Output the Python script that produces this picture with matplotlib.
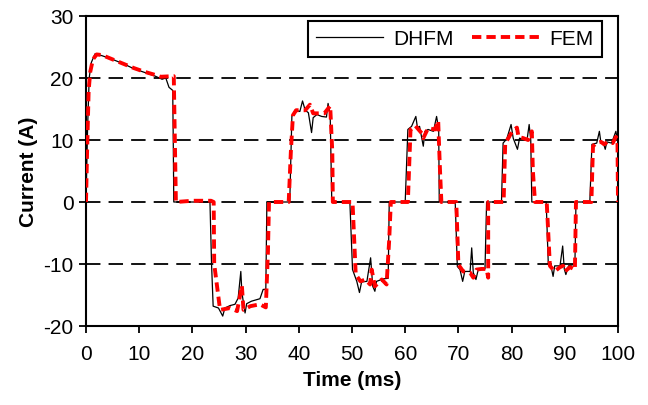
import matplotlib
matplotlib.use('Agg')
import matplotlib.pyplot as plt

# 字體設定
plt.rcParams['font.family'] = ['Liberation Sans', 'DejaVu Sans']
plt.rcParams['axes.unicode_minus'] = False

# DHFM 電流波形 (時間 ms, 電流 A)
dhfm_t = [0, 0.3, 0.6, 1.0, 1.7, 3, 5, 7, 9, 11, 13, 14.3, 15.0, 15.6, 16.3, 16.4, 16.5,
          23.3, 23.6, 23.9, 24.9, 25.7, 26.1, 27.1, 28.0, 28.6, 29.1, 29.3, 29.9, 30.2, 31.1, 32.7, 33.3, 33.8, 34.0,
          38.3, 38.7, 39.3, 40.2, 40.7, 41.2, 41.8, 42.4, 42.7, 43.4, 44.3, 45.2, 45.5, 45.9, 46.2,
          49.6, 50.1, 50.9, 51.4, 51.8, 52.8, 53.5, 53.9, 54.3, 54.6, 55.9, 56.8, 57.0,
          60.0, 60.5, 61.2, 62.0, 62.3, 62.7, 63.4, 63.7, 64.3, 65.3, 65.9, 66.3, 66.4,
          69.4, 69.8, 70.3, 70.8, 71.2, 72.2, 72.5, 72.8, 73.3, 73.7, 75.0, 75.3,
          78.1, 78.4, 79.1, 79.9, 80.3, 81.1, 81.5, 82.5, 82.9, 83.3, 83.6, 83.8,
          86.5, 86.9, 87.4, 87.8, 88.1, 89.1, 89.6, 89.9, 90.2, 90.7, 91.6, 91.9, 92.1,
          94.7, 95.1, 96.0, 96.5, 96.8, 97.2, 97.6, 97.9, 98.8, 99.6, 100.0]
dhfm_i = [0, 12, 20, 22.5, 23.9, 23.6, 23.0, 22.3, 21.5, 20.9, 20.3, 19.8, 20.0, 18.5, 18.0, 10, 0,
          0, -10, -16.8, -17.1, -18.4, -17.1, -16.7, -16.5, -15.5, -11.2, -14.6, -17.9, -16.4, -16.0, -15.6, -14.1, -14.1, 0,
          0, 13.8, 14.8, 14.6, 16.3, 14.8, 14.4, 11.2, 13.6, 14.1, 13.8, 13.7, 15.9, 14.1, 0,
          0, -10.9, -12.8, -14.6, -12.9, -12.8, -9.0, -13.6, -14.4, -12.8, -12.4, -12.3, 0,
          0, 11.7, 12.2, 13.8, 12.0, 12.2, 9.0, 11.4, 11.7, 11.4, 13.8, 11.7, 0,
          0, -10.4, -10.9, -12.8, -11.2, -11.2, -7.4, -11.4, -12.5, -11.0, -10.8, 0,
          0, 9.5, 10.2, 12.5, 10.3, 8.5, 10.3, 10.0, 10.0, 12.5, 10.0, 0,
          0, -10.1, -10.3, -12.0, -10.3, -10.3, -7.1, -10.8, -11.7, -10.3, -10.1, -10.1, 0,
          0, 9.3, 9.5, 11.4, 9.5, 9.7, 8.5, 9.7, 9.5, 11.4, 9.5]

# FEM 電流波形
fem_t = [0, 0.2, 0.5, 0.8, 1.3, 2.0, 3, 5, 7, 9, 11, 13, 14, 16.5, 16.7, 16.9,
         20, 23.5, 24.0, 24.1, 25.2, 27.1, 28.4, 29.3, 29.6, 30.9, 32.7, 33.8, 34.2, 34.4,
         38.1, 38.5, 38.9, 39.5, 41.2, 42.1, 42.7, 43.9, 44.8, 45.9, 46.3, 46.4,
         50.1, 50.7, 51.6, 52.5, 53.4, 53.7, 54.3, 55.6, 56.5, 57.0, 57.3,
         60.5, 61.0, 61.9, 63.1, 63.4, 64.3, 65.6, 66.2, 66.5, 66.8,
         69.6, 70.0, 70.9, 72.2, 72.8, 73.4, 74.3, 75.3, 75.6, 75.6,
         78.5, 78.8, 79.4, 80.1, 81.0, 81.3, 82.2, 83.1, 83.8, 84.0, 84.4,
         86.6, 87.2, 88.1, 89.1, 89.7, 90.0, 91.0, 91.9, 92.1,
         95.0, 95.3, 95.9, 96.8, 97.4, 98.0, 99.0, 99.6, 99.9, 100.0]
fem_i = [0, 8, 18, 21, 23, 23.8, 23.7, 23.0, 22.3, 21.6, 21.0, 20.5, 20.2, 20.3, 10, 0,
         0.2, 0.2, 0, -10, -17.4, -17.1, -17.6, -13.5, -17.4, -16.8, -16.5, -17.0, -8, 0,
         0, 8, 14.0, 14.8, 14.8, 15.7, 14.3, 14.3, 14.3, 15.5, 8, 0,
         0, -11.7, -12.8, -12.5, -13.3, -10.9, -13.6, -12.5, -13.3, -6, 0,
         0, 11.7, 12.3, 11.1, 10.3, 11.9, 11.7, 13.1, 6, 0,
         0, -10.1, -11.2, -11.4, -12.2, -10.9, -10.8, -10.8, -12.2, 0,
         0, 9.5, 10.3, 11.4, 12.0, 10.5, 10.3, 10.0, 11.4, 5, 0,
         0, -10.3, -11.2, -10.5, -10.3, -11.2, -10.5, -10.9, 0,
         0, 9.0, 9.5, 9.7, 9.3, 9.7, 9.5, 10.5, 10.0, 0]

x_ticks = [0, 10, 20, 30, 40, 50, 60, 70, 80, 90, 100]
y_ticks = [-20, -10, 0, 10, 20, 30]

fig = plt.figure(figsize=(6.48, 4.06), dpi=100)
ax = fig.add_axes([86 / 648, 1 - 327 / 406, 532 / 648, 310 / 406])

# 水平虛線格線
for yv in [-10, 0, 10, 20]:
    ax.axhline(yv, color='black', lw=1.3, dashes=(8, 4.5), zorder=1)

ax.plot(dhfm_t, dhfm_i, color='black', lw=0.9, label='DHFM', zorder=3)
ax.plot(fem_t, fem_i, color='red', lw=2.8, dashes=(2.4, 1.3), label='FEM', zorder=4)

ax.set_xlim(0, 100)
ax.set_ylim(-20, 30)
ax.set_xticks(x_ticks)
ax.set_yticks(y_ticks)
ax.tick_params(direction='out', length=5, width=1.3, labelsize=15)
ax.tick_params(axis='x', pad=8)
ax.tick_params(axis='y', pad=4)
for s in ax.spines.values():
    s.set_linewidth(1.5)

ax.set_xlabel('Time (ms)', fontsize=15, fontweight='bold', labelpad=5)
ax.set_ylabel('Current (A)', fontsize=15, fontweight='bold', labelpad=4)

leg = ax.legend(loc='upper right', bbox_to_anchor=((602 - 86) / 532, (327 - 22) / 310),
                borderaxespad=0, ncol=2, fontsize=15, handlelength=3.2,
                columnspacing=0.9, handletextpad=0.5, fancybox=False, framealpha=1)
leg.get_frame().set_edgecolor('black')
leg.get_frame().set_linewidth(1.5)

plt.savefig('out.png', dpi=100)
